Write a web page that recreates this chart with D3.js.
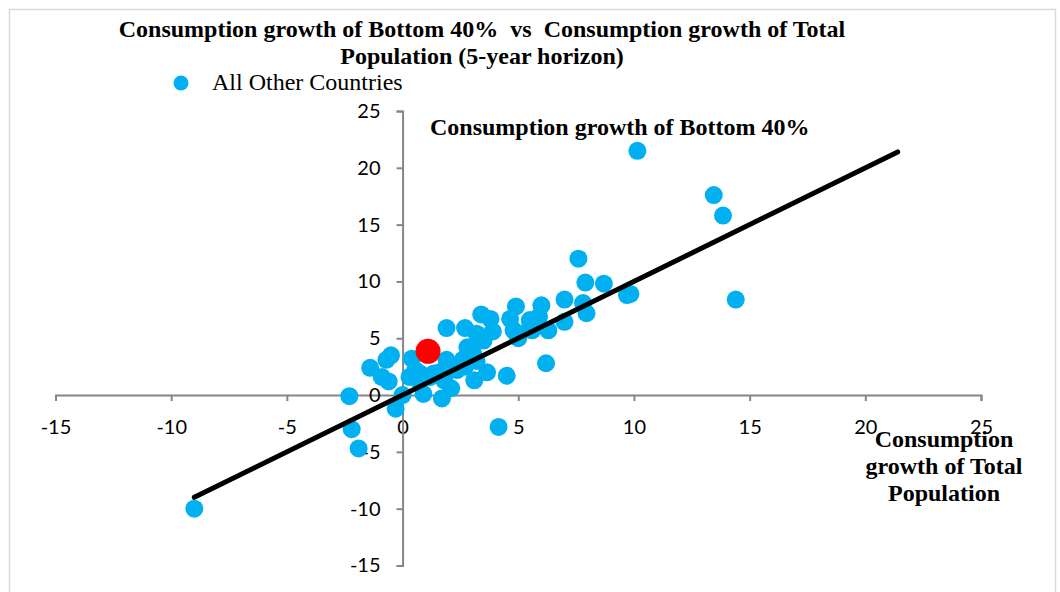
<!DOCTYPE html>
<html>
<head>
<meta charset="utf-8">
<script src="https://cdn.jsdelivr.net/npm/d3@7"></script>
<style>
  body { margin: 0; background: #fff; }
  svg { display: block; }
</style>
</head>
<body>
<div id="wrapper"></div>
<script>
// data: growth of total population (x) vs bottom 40% (y)
const totalGrowth = [-9.0, -2.3, -2.2, -1.9, -1.4, -0.9, -0.6, -0.5, -0.7, -0.3,
  0.0, 0.3, 0.4, 0.55, 0.7, 0.9, 1.2, 1.6, 1.7, 1.9,
  2.1, 1.9, 2.35, 2.6, 2.7, 2.8, 2.9, 3.1, 3.1, 3.2,
  3.4, 3.65, 3.8, 3.9, 3.5, 4.15, 4.5, 4.65, 4.8, 4.9,
  5.0, 4.95, 5.5, 5.5, 5.6, 5.9, 6.0, 6.3, 6.2, 7.0,
  7.0, 7.6, 7.8, 7.9, 7.95, 8.7, 9.7, 9.85, 10.15, 13.45,
  13.85, 14.4, 3.05, 0.75, 1.35, 1.8, 2.7, 3.2];
const bottom40Growth = [-10.0, -0.1, -3.0, -4.7, 2.4, 1.6, 1.2, 3.5, 3.1, -1.2,
  0.0, 1.6, 3.2, 2.2, 1.3, 0.1, 1.6, 2.0, -0.3, 3.1,
  0.6, 5.9, 2.2, 3.1, 5.9, 4.2, 3.8, 3.1, 1.3, 5.4,
  7.1, 2.0, 6.7, 5.6, 4.8, -2.8, 1.7, 6.7, 5.7, 7.8,
  5.0, 5.3, 6.0, 6.6, 5.7, 6.9, 7.9, 5.7, 2.8, 8.4,
  6.45, 12.0, 8.1, 9.9, 7.2, 9.8, 8.8, 8.9, 21.5, 17.6,
  15.8, 8.4, 3.65, 1.9, 1.9, 1.3, 2.5, 3.0];
const highlightX = [1.1];
const highlightY = [3.85];
const lineX = [-9.0, 21.4];
const lineY = [-9.0, 21.4];
const xTicks = [-15, -10, -5, 0, 5, 10, 15, 20, 25];
const yTicks = [-15, -10, -5, 0, 5, 10, 15, 20, 25];
const legendLabel = "All Other Countries";

const width = 1060, height = 592;

const svg = d3.select("#wrapper").append("svg")
  .attr("width", width)
  .attr("height", height);

// outer frame
svg.append("rect")
  .attr("x", 9.5).attr("y", 9.5)
  .attr("width", 1046).attr("height", 600)
  .attr("fill", "#fff")
  .attr("stroke", "#d9d9d9")
  .attr("stroke-width", 1.5);

const xScale = d3.scaleLinear().domain([-15, 25]).range([55.5, 981]);
const yScale = d3.scaleLinear().domain([-15, 25]).range([565.5, 111]);

const axisColor = "#868686";
const tickFont = "Lato, 'Open Sans', sans-serif";
const plainNum = d => String(d); // hyphen, not unicode minus

// x axis crossing at y = 0
const xAxis = svg.append("g")
  .attr("transform", `translate(0,${yScale(0)})`)
  .call(d3.axisBottom(xScale).tickValues(xTicks).tickFormat(plainNum)
    .tickSize(6).tickPadding(19).tickSizeOuter(6));
// y axis crossing at x = 0
const yAxis = svg.append("g")
  .attr("transform", `translate(${xScale(0)},0)`)
  .call(d3.axisLeft(yScale).tickValues(yTicks).tickFormat(plainNum)
    .tickSize(6).tickPadding(16).tickSizeOuter(6));

[xAxis, yAxis].forEach(a => {
  a.selectAll("path, line").attr("stroke", axisColor).attr("stroke-width", 2);
  a.selectAll("text")
    .attr("fill", "#000")
    .style("font-family", tickFont)
    .style("font-size", "20px");
});

// points
const points = totalGrowth.map((x, i) => ({x: x, y: bottom40Growth[i]}));
svg.append("g").selectAll("circle")
  .data(points)
  .join("circle")
  .attr("cx", d => xScale(d.x))
  .attr("cy", d => yScale(d.y))
  .attr("r", 9)
  .attr("fill", "#00b0f0");

// 45 degree line
const line = d3.line().x(d => xScale(d[0])).y(d => yScale(d[1]));
svg.append("path")
  .datum(lineX.map((x, i) => [x, lineY[i]]))
  .attr("d", line)
  .attr("stroke", "#000")
  .attr("stroke-width", 5)
  .attr("stroke-linecap", "round")
  .attr("fill", "none");

// highlighted country
svg.append("g").selectAll("circle")
  .data(highlightX.map((x, i) => ({x: x, y: highlightY[i]})))
  .join("circle")
  .attr("cx", d => xScale(d.x))
  .attr("cy", d => yScale(d.y))
  .attr("r", 12.5)
  .attr("fill", "#ff0000");

// titles
const serif = "'Liberation Serif', 'Times New Roman', serif";
const title = svg.append("text")
  .attr("text-anchor", "middle")
  .style("font-family", serif)
  .style("font-weight", "bold")
  .style("font-size", "24px")
  .attr("xml:space", "preserve");
title.append("tspan").attr("x", 482).attr("y", 37)
  .text("Consumption growth of Bottom 40%  vs  Consumption growth of Total");
title.append("tspan").attr("x", 482).attr("y", 64)
  .text("Population (5-year horizon)");

svg.append("text")
  .attr("x", 430).attr("y", 135)
  .style("font-family", serif)
  .style("font-weight", "bold")
  .style("font-size", "24px")
  .text("Consumption growth of Bottom 40%");

const xTitle = svg.append("text")
  .attr("text-anchor", "middle")
  .style("font-family", serif)
  .style("font-weight", "bold")
  .style("font-size", "24px");
["Consumption", "growth of Total", "Population"].forEach((t, i) => {
  xTitle.append("tspan").attr("x", 944).attr("y", 447 + i * 27).text(t);
});

// legend
svg.append("circle")
  .attr("cx", 181).attr("cy", 83).attr("r", 7.5)
  .attr("fill", "#00b0f0");
svg.append("text")
  .attr("x", 212).attr("y", 90)
  .style("font-family", serif)
  .style("font-size", "24px")
  .text(legendLabel);
</script>
</body>
</html>
